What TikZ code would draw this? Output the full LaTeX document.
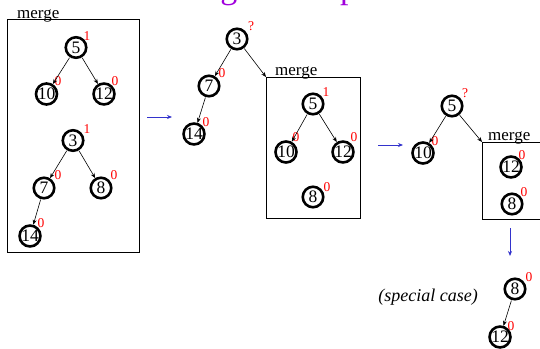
\documentclass[tikz,border=0pt]{standalone}
\usepackage{fontspec}
\setmainfont{Liberation Serif}
\usetikzlibrary{arrows.meta}
\definecolor{titlec}{RGB}{160,0,220}
\definecolor{arrb}{RGB}{51,51,204}
\tikzset{
  hn/.style={circle, draw, line width=2.6pt, minimum size=20.5pt, inner sep=0pt, font=\fontsize{17.5}{17.5}\selectfont},
  rk/.style={text=red, font=\fontsize{13.5}{13.5}\selectfont, inner sep=0pt},
  ed/.style={-{Stealth[length=5pt,width=4pt]}, line width=0.6pt, shorten <=0.5pt},
  ba/.style={draw=arrb, -{Stealth[length=5pt,width=4pt]}, line width=0.8pt},
  mbox/.style={draw, line width=0.8pt},
  mlab/.style={font=\fontsize{17}{17}\selectfont, anchor=base west, inner sep=0pt},
}
\begin{document}
\begin{tikzpicture}[x=1pt,y=-1pt]
\useasboundingbox (0,0) rectangle (540,348);
\clip (0,0) rectangle (540,348);
\fill[white] (0,0) rectangle (540,348);
% title (clipped at the top edge, as in the reference)
\node[anchor=base, text=titlec, font=\fontsize{34}{34}\selectfont, inner sep=0pt] (title) at (273,-1.2) {Merge Example};

% ---- box 1 ----
\draw[mbox] (7,19.5) rectangle (139,252);
\node[mlab] (m1) at (17,18.5) {merge};
\node[hn] (a5) at (76,47.5) {5};
\node[hn] (a10) at (46.5,94) {10};
\node[hn] (a12) at (104,94) {12};
\node[hn] (a3) at (73,140.5) {3};
\node[hn] (a7) at (44,188) {7};
\node[hn] (a8) at (101,188) {8};
\node[hn] (a14) at (30,236) {14};
\node[rk] (ra5) at (87,36) {1};
\node[rk] (ra10) at (58,81) {0};
\node[rk] (ra12) at (115,81) {0};
\node[rk] (ra3) at (87,129) {1};
\node[rk] (ra7) at (58,175) {0};
\node[rk] (ra8) at (114,175) {0};
\node[rk] (ra14) at (41,223) {0};
\draw[ed] (a5) -- (a10);
\draw[ed] (a5) -- (a12);
\draw[ed] (a3) -- (a7);
\draw[ed] (a3) -- (a8);
\draw[ed] (a7) -- (a14);

% arrow 1
\coordinate (p1s) at (147,117);
\coordinate (p1e) at (172,117);
\draw[ba] (p1s) -- (p1e);

% ---- stage 2 ----
\node[hn] (b3) at (237,39) {3};
\node[hn] (b7) at (209,86) {7};
\node[hn] (b14) at (194,134) {14};
\node[rk] (rb3) at (251,26) {?};
\node[rk] (rb7) at (222,73) {0};
\node[rk] (rb14) at (206,122) {0};
\draw[ed] (b3) -- (b7);
\draw[ed] (b7) -- (b14);
\coordinate (c2) at (266,77);
\draw[mbox] (c2) rectangle (360,218);
\node[mlab] (m2) at (275,75.5) {merge};
\draw[ed] (b3) -- (c2);
\node[hn] (b5) at (313,104) {5};
\node[hn] (b10) at (286,152) {10};
\node[hn] (b12) at (343,152) {12};
\node[hn] (b8) at (313,197) {8};
\node[rk] (rb5) at (326,92) {1};
\node[rk] (rb10) at (296,137) {0};
\node[rk] (rb12) at (354,137) {0};
\node[rk] (rb8) at (327,187) {0};
\draw[ed] (b5) -- (b10);
\draw[ed] (b5) -- (b12);

% arrow 2
\coordinate (p2s) at (378,145);
\coordinate (p2e) at (403,145);
\draw[ba] (p2s) -- (p2e);

% ---- stage 3 ----
\node[hn] (c5) at (452,106) {5};
\node[hn] (c10) at (423,153) {10};
\node[rk] (rc5) at (465,93) {?};
\node[rk] (rc10) at (435,141) {0};
\draw[ed] (c5) -- (c10);
\coordinate (c3) at (482,142);
\draw[mbox] (c3) rectangle (548,219);
\node[mlab] (m3) at (488,140.5) {merge};
\draw[ed] (c5) -- (c3);
\node[hn] (c12) at (511,167) {12};
\node[hn] (c8) at (512,204) {8};
\node[rk] (rc12) at (522,155) {0};
\node[rk] (rc8) at (524,192) {0};

% arrow 3
\coordinate (p3s) at (510,228);
\coordinate (p3e) at (510,256);
\draw[ba] (p3s) -- (p3e);

% ---- special case ----
\node[font=\fontsize{18}{18}\selectfont\itshape, inner sep=0pt] (sc) at (428,297) {(special case)};
\node[hn] (d8) at (515,289) {8};
\node[hn] (d12) at (500,337) {12};
\node[rk] (rd8) at (529,277) {0};
\node[rk] (rd12) at (511,326) {0};
\draw[ed] (d8) -- (d12);
\end{tikzpicture}
\end{document}
